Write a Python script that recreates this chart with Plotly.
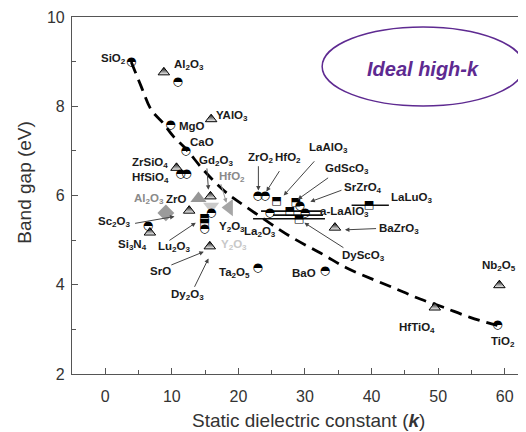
import plotly.graph_objects as go

# ---------------- data ----------------
# half-filled circles
circ_names = ["SiO2", "Al2O3", "MgO", "CaO", "HfSiO4-a", "HfSiO4-b", "Y2O3-c", "Lu2O3-c",
              "Sc2O3", "ZrO2", "HfO2", "La2O3", "a-LaAlO3-c", "SrZrO4", "Ta2O5", "BaO", "TiO2"]
circ_k = [3.9, 10.9, 9.8, 12.1, 11.3, 12.2, 15.9, 14.9, 6.4, 22.9, 24.0, 24.7, 30.0, 29.2, 22.9, 33.0, 58.9]
circ_eg = [9.0, 8.55, 7.57, 6.99, 6.49, 6.49, 5.61, 5.26, 5.31, 5.98, 5.98, 5.6, 5.6, 5.76, 4.38, 4.31, 3.09]

# half-filled squares
sq_names = ["Lu2O3-a", "Lu2O3-b", "LaAlO3", "GdScO3", "a-LaAlO3", "DyScO3", "LaLuO3"]
sq_k = [14.9, 14.9, 25.7, 28.6, 27.7, 29.1, 39.6]
sq_eg = [5.49, 5.38, 5.87, 5.86, 5.65, 5.47, 5.78]

# half-filled triangles
tri_names = ["Al2O3", "YAlO3", "ZrSiO4", "Gd2O3", "ZrO", "Si3N4", "Dy2O3", "BaZrO3", "Nb2O5", "HfTiO4"]
tri_k = [8.8, 15.9, 10.7, 15.8, 12.6, 6.7, 15.7, 34.5, 59.2, 49.5]
tri_eg = [8.76, 7.71, 6.62, 5.98, 5.66, 5.17, 4.86, 5.28, 3.99, 3.49]

# gray (other calculations) markers
gray_names = ["Al2O3", "ZrO", "Y2O3", "HfO2"]
gray_k = [9.1, 14.0, 15.9, 18.6]
gray_eg = [5.61, 5.93, 5.76, 5.73]

# horizontal range bars
bar_eg = [5.65, 5.56, 5.48, 5.78]
bar_k0 = [23.4, 25.2, 22.2, 37.0]
bar_k1 = [32.5, 32.7, 33.0, 42.6]

# dashed trend curve
curve_k = [3.9, 5.4, 6.9, 8.7, 10.2, 12.2, 14.7, 17.9, 21.7, 27.7, 32.7, 36.2, 40.2, 43.8, 47.3, 50.7, 54.8, 58.9]
curve_eg = [8.99, 8.44, 7.92, 7.62, 7.33, 7.03, 6.58, 6.10, 5.69, 5.09, 4.68, 4.38, 4.12, 3.90, 3.68, 3.50, 3.27, 3.09]

# labels: text, k, Eg, colour
labels = [
    ("SiO<sub>2</sub>", 1.3, 9.06, "#1a1a1a"),
    ("Al<sub>2</sub>O<sub>3</sub>", 12.5, 8.93, "#1a1a1a"),
    ("MgO", 13.0, 7.56, "#1a1a1a"),
    ("YAlO<sub>3</sub>", 19.0, 7.79, "#1a1a1a"),
    ("CaO", 14.5, 7.20, "#1a1a1a"),
    ("ZrSiO<sub>4</sub>", 6.65, 6.73, "#1a1a1a"),
    ("HfSiO<sub>4</sub>", 6.8, 6.40, "#1a1a1a"),
    ("Gd<sub>2</sub>O<sub>3</sub>", 16.6, 6.78, "#1a1a1a"),
    ("HfO<sub>2</sub>", 19.1, 6.42, "#8a8a8a"),
    ("Al<sub>2</sub>O<sub>3</sub>", 6.5, 5.93, "#8a8a8a"),
    ("ZrO", 10.7, 5.93, "#1a1a1a"),
    ("Sc<sub>2</sub>O<sub>3</sub>", 1.4, 5.41, "#1a1a1a"),
    ("Si<sub>3</sub>N<sub>4</sub>", 4.1, 4.90, "#1a1a1a"),
    ("Lu<sub>2</sub>O<sub>3</sub>", 10.4, 4.85, "#1a1a1a"),
    ("SrO", 8.3, 4.30, "#1a1a1a"),
    ("Dy<sub>2</sub>O<sub>3</sub>", 12.4, 3.76, "#1a1a1a"),
    ("Y<sub>2</sub>O<sub>3</sub>", 19.1, 5.30, "#1a1a1a"),
    ("Y<sub>2</sub>O<sub>3</sub>", 19.3, 4.90, "#c8c8c8"),
    ("Ta<sub>2</sub>O<sub>5</sub>", 19.4, 4.27, "#1a1a1a"),
    ("La<sub>2</sub>O<sub>3</sub>", 23.3, 5.19, "#1a1a1a"),
    ("ZrO<sub>2</sub>", 23.3, 6.85, "#1a1a1a"),
    ("HfO<sub>2</sub>", 27.4, 6.85, "#1a1a1a"),
    ("LaAlO<sub>3</sub>", 33.6, 7.07, "#1a1a1a"),
    ("GdScO<sub>3</sub>", 36.3, 6.60, "#1a1a1a"),
    ("SrZrO<sub>4</sub>", 38.7, 6.17, "#1a1a1a"),
    ("LaLuO<sub>3</sub>", 46.0, 5.95, "#1a1a1a"),
    ("a-LaAlO<sub>3</sub>", 35.9, 5.62, "#1a1a1a"),
    ("BaZrO<sub>3</sub>", 44.1, 5.26, "#1a1a1a"),
    ("DyScO<sub>3</sub>", 38.8, 4.65, "#1a1a1a"),
    ("BaO", 29.9, 4.27, "#1a1a1a"),
    ("Nb<sub>2</sub>O<sub>5</sub>", 59.1, 4.41, "#1a1a1a"),
    ("HfTiO<sub>4</sub>", 46.9, 3.02, "#1a1a1a"),
    ("TiO<sub>2</sub>", 59.7, 2.71, "#1a1a1a"),
]

# pointer arrows: (tail k, tail Eg, head k, head Eg, colour)
arrows = [
    (15.25, 6.64, 15.5, 6.13, "#444"),
    (17.3, 6.29, 18.2, 5.84, "#999"),
    (23.0, 6.69, 23.0, 6.11, "#444"),
    (26.3, 6.58, 24.2, 6.09, "#444"),
    (31.6, 6.80, 26.8, 6.00, "#444"),
    (33.7, 6.42, 28.9, 5.91, "#444"),
    (35.7, 6.13, 30.8, 5.86, "#444"),
    (40.9, 5.26, 36.0, 5.23, "#444"),
    (36.0, 4.81, 29.9, 5.39, "#444"),
    (4.25, 5.37, 10.4, 5.53, "#444"),
    (9.4, 4.97, 13.6, 5.39, "#444"),
    (9.7, 4.43, 14.8, 4.74, "#444"),
    (13.3, 3.92, 15.5, 4.59, "#444"),
]

# ---------------- figure ----------------
fig = go.Figure()

fig.add_trace(go.Scatter(x=curve_k, y=curve_eg, mode="lines",
                         line=dict(color="black", width=2.8, dash="12px,7px", shape="spline"),
                         hoverinfo="skip"))

for e, a, b in zip(bar_eg, bar_k0, bar_k1):
    fig.add_trace(go.Scatter(x=[a, b], y=[e, e], mode="lines",
                             line=dict(color="#111", width=1.6), hoverinfo="skip"))

fig.add_trace(go.Scatter(x=gray_k, y=gray_eg, mode="markers",
                         marker=dict(symbol=["diamond", "triangle-up", "triangle-down", "triangle-left"],
                                     size=[13, 14, 14, 15],
                                     color=["#707070", "#6a6a6a", "#b4b4b4", "#808080"],
                                     line=dict(width=0)),
                         hoverinfo="skip"))

fig.add_trace(go.Scatter(x=tri_k, y=tri_eg, mode="markers",
                         marker=dict(symbol="triangle-up", size=10, color="black",
                                     gradient=dict(type="vertical", color="white"),
                                     line=dict(color="black", width=1)),
                         hoverinfo="skip"))

fig.add_trace(go.Scatter(x=circ_k, y=circ_eg, mode="text", text=["\u25d3"] * len(circ_k),
                         textposition="middle center",
                         textfont=dict(family="DejaVu Sans", size=12, color="black"),
                         hoverinfo="skip"))

fig.add_trace(go.Scatter(x=sq_k, y=sq_eg, mode="text", text=["\u2b12"] * len(sq_k),
                         textposition="middle center",
                         textfont=dict(family="DejaVu Sans", size=11, color="black"),
                         hoverinfo="skip"))

annotations = []
for t, k, e, c in labels:
    annotations.append(dict(x=k, y=e, xref="x", yref="y", text="<b>" + t + "</b>",
                            showarrow=False, xanchor="center", yanchor="middle",
                            font=dict(family="Liberation Sans", size=11.5, color=c)))
for tk, te, hk, he, c in arrows:
    annotations.append(dict(x=hk, y=he, ax=tk, ay=te, xref="x", yref="y", axref="x", ayref="y",
                            text="", showarrow=True, arrowhead=2, arrowsize=0.9, arrowwidth=1,
                            arrowcolor=c, standoff=0))

annotations.append(dict(x=-0.1035, y=0.536, xref="paper", yref="paper", text="Band gap (eV)",
                        textangle=-90, showarrow=False, xanchor="center", yanchor="middle",
                        font=dict(family="Liberation Sans", size=19, color="#333")))
annotations.append(dict(x=0.52, y=-0.13, xref="paper", yref="paper",
                        text="Static dielectric constant (<b><i>k</i></b>)",
                        showarrow=False, xanchor="center", yanchor="middle",
                        font=dict(family="Liberation Sans", size=19, color="#333")))
annotations.append(dict(x=0.773, y=0.8545, xref="paper", yref="paper",
                        text="<b><i>Ideal high-k</i></b>",
                        showarrow=False, xanchor="center", yanchor="middle",
                        font=dict(family="Liberation Sans", size=20, color="#5e2a91")))

# the page body adds an 8px offset, so the figure is 8px smaller than the window
fig.update_layout(
    width=518, height=424,
    margin=dict(l=64, r=0, t=9, b=57.5),
    paper_bgcolor="white", plot_bgcolor="white",
    showlegend=False,
    annotations=annotations,
    shapes=[dict(type="circle", xref="paper", yref="paper",
                 x0=0.551, x1=0.9956, y0=0.751, y1=0.972,
                 line=dict(color="#5e2a91", width=1.5))],
    xaxis=dict(range=[-5, 63.2], dtick=10, tick0=0, ticks="inside", ticklen=6,
               tickcolor="#555", showline=True, linecolor="#555", linewidth=1.2,
               mirror=True, showgrid=False, zeroline=False, ticklabelstandoff=8,
               minor=dict(dtick=5, ticks="inside", ticklen=4, tickcolor="#555", showgrid=False),
               tickfont=dict(family="Liberation Sans", size=16, color="#333")),
    yaxis=dict(range=[2, 10], dtick=2, ticks="inside", ticklen=6,
               tickcolor="#555", showline=True, linecolor="#555", linewidth=1.2,
               mirror=False, showgrid=False, zeroline=False, ticklabelstandoff=3,
               minor=dict(dtick=1, ticks="inside", ticklen=4, tickcolor="#555", showgrid=False),
               tickfont=dict(family="Liberation Sans", size=16, color="#333")),
)

fig.write_html("out.html")
